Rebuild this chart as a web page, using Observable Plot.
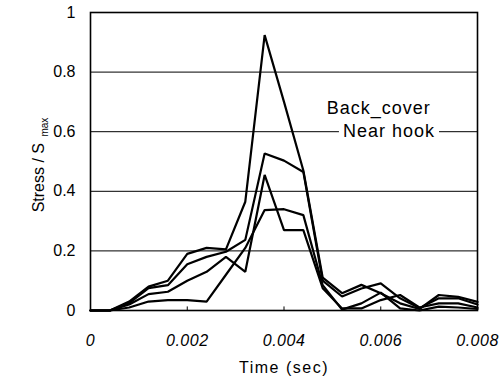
<!DOCTYPE html>
<html>
<head>
<meta charset="utf-8">
<script src="https://cdn.jsdelivr.net/npm/d3@7"></script>
<script src="https://cdn.jsdelivr.net/npm/@observablehq/plot@0.6"></script>
<style>
  html, body { margin: 0; padding: 0; background: #fff; }
  #chart svg { display: block; }
</style>
</head>
<body>
<div id="chart"></div>
<script>
// Time samples (sec)
const times = [0, 0.0004, 0.0008, 0.0012, 0.0016, 0.0020, 0.0024, 0.0028, 0.0032, 0.0036, 0.0040,
               0.0044, 0.0048, 0.0052, 0.0056, 0.0060, 0.0064, 0.0068, 0.0072, 0.0076, 0.0080];
// Stress / S max for four gauges
const seriesA = [0, 0, 0.03, 0.08, 0.10, 0.19, 0.21, 0.205, 0.365, 0.924, 0.70, 0.47, 0.11, 0.058, 0.086, 0.058, 0.024, 0.005, 0.052, 0.046, 0.029];
const seriesB = [0, 0, 0.025, 0.075, 0.085, 0.155, 0.18, 0.197, 0.237, 0.527, 0.503, 0.465, 0.10, 0.047, 0.074, 0.091, 0.041, 0.008, 0.041, 0.041, 0.02];
const seriesC = [0, 0, 0.02, 0.055, 0.063, 0.10, 0.13, 0.18, 0.13, 0.455, 0.27, 0.27, 0.075, 0.007, 0.007, 0.035, 0.052, 0.01, 0.024, 0.024, 0.01];
const seriesD = [0, 0, 0.01, 0.03, 0.035, 0.035, 0.03, 0.12, 0.21, 0.337, 0.34, 0.32, 0.085, 0.003, 0.024, 0.06, 0.007, 0.0, 0.013, 0.01, 0.005];
const seriesNames = ["A", "B", "C", "D"];

const xTicks = [0, 0.002, 0.004, 0.006, 0.008];
const xTickLabels = ["0", "0.002", "0.004", "0.006", "0.008"];
const yTicks = [0, 0.2, 0.4, 0.6, 0.8, 1];
const yTickLabels = ["0", "0.2", "0.4", "0.6", "0.8", "1"];
const gridValues = [0.2, 0.4, 0.6, 0.8];
const innerTicks = [0.002, 0.004, 0.006];

const legendLabels = [
  {t: 0.00596, v: 0.68, text: "Back_cover"},
  {t: 0.00617, v: 0.60, text: "Near hook"}
];

const allSeries = [seriesA, seriesB, seriesC, seriesD];
const rows = [];
allSeries.forEach((s, i) => s.forEach((v, j) => rows.push({series: seriesNames[i], t: times[j], v})));

const plot = Plot.plot({
  width: 502,
  height: 383,
  marginLeft: 90,
  marginRight: 25,
  marginTop: 12,
  marginBottom: 73,
  style: {fontFamily: "'Liberation Sans', Arial, sans-serif", fontSize: "14px", color: "#000", background: "#fff"},
  x: {domain: [0, 0.008]},
  y: {domain: [0, 1]},
  marks: [
    Plot.ruleY(gridValues, {stroke: "#000", strokeWidth: 1}),
    Plot.ruleX(innerTicks, {y1: 0, y2: 0.012, stroke: "#000", strokeWidth: 1}),
    Plot.line(rows, {x: "t", y: "v", z: "series", stroke: "#000", strokeWidth: 2.2, strokeLinejoin: "miter"}),
    Plot.frame({stroke: "#000", strokeWidth: 1.6}),
    Plot.text(legendLabels, {x: "t", y: "v", text: "text", fontSize: 18, fill: "#000", textAnchor: "middle", fontFamily: "'Liberation Sans', Arial, sans-serif"}),
    Plot.axisY({ticks: yTicks, tickFormat: (d, i) => yTickLabels[i], tickSize: 0, tickPadding: 15, fontSize: 16, label: null}),
    Plot.axisX({ticks: xTicks, tickFormat: (d, i) => xTickLabels[i], tickSize: 0, tickPadding: 24, fontSize: 16, fontStyle: "italic", label: null}),
    Plot.axisX({ticks: [], label: "Time (sec)", labelAnchor: "center", labelArrow: "none", labelOffset: 62, tickSize: 0})
  ]
});

document.getElementById("chart").appendChild(plot);

const svg = d3.select(plot);
svg.selectAll("[aria-label='x-axis tick label'] text").style("letter-spacing", "0.5px");
svg.selectAll("[aria-label='x-axis label'] text").style("letter-spacing", "1.5px").style("font-size", "16px").style("font-style", "normal");
svg.selectAll("[aria-label='text'] text").style("letter-spacing", "1px").each(function () {
  const b = this.getBBox();
  const parent = this.parentNode;
  const r = document.createElementNS("http://www.w3.org/2000/svg", "rect");
  r.setAttribute("x", b.x - 4);
  r.setAttribute("y", b.y + 1);
  r.setAttribute("width", b.width + 8);
  r.setAttribute("height", b.height - 2);
  r.setAttribute("fill", "#fff");
  const tr = this.getAttribute("transform");
  if (tr) r.setAttribute("transform", tr);
  parent.insertBefore(r, this);
});
const yl = svg.append("text")
  .attr("transform", "translate(44,165) rotate(-90)")
  .attr("text-anchor", "middle")
  .attr("font-size", 16)
  .attr("fill", "#000");
yl.append("tspan").text("Stress / S ");
yl.append("tspan").attr("font-size", 10).attr("dy", 4).attr("dx", 2).text("max");
</script>
</body>
</html>
